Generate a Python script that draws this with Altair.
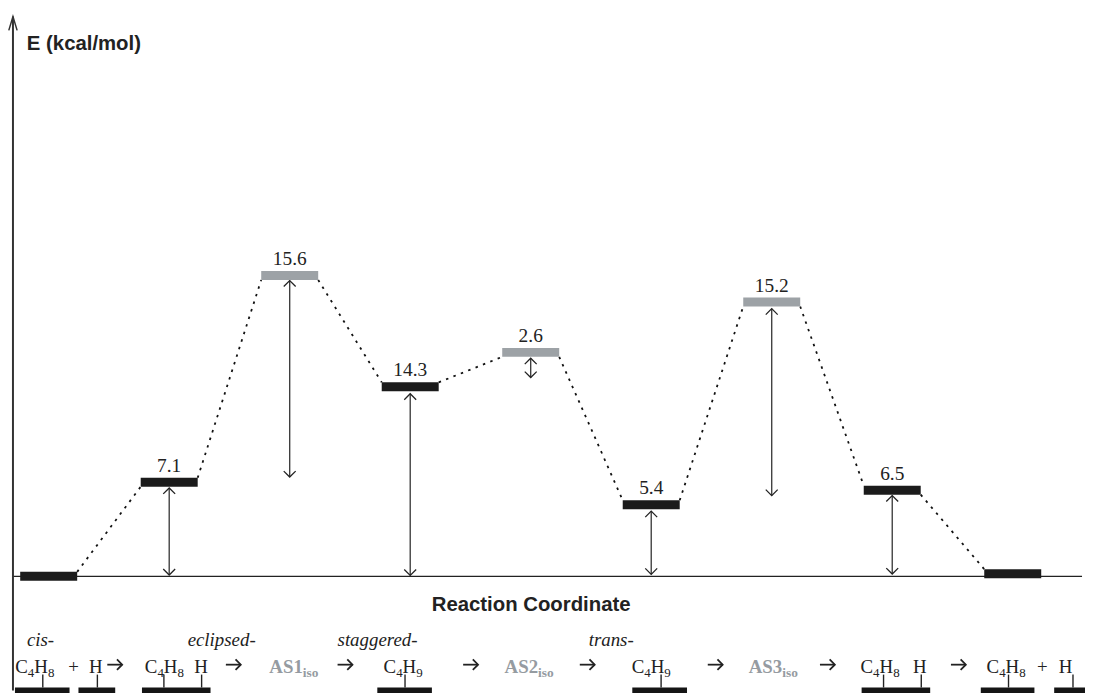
import altair as alt
import pandas as pd

# ---------------- data ----------------
# energy levels (reaction coordinate index, absolute energy in kcal/mol)
level_pos = [0, 1, 2, 3, 4, 5, 6, 7, 8]
level_energy = [0.0, 7.1, 22.7, 14.3, 16.9, 5.4, 20.7, 6.5, 0.2]
level_label = ["", "7.1", "15.6", "14.3", "2.6", "5.4", "15.2", "6.5", ""]
level_kind = ["min", "min", "ts", "min", "ts", "min", "ts", "min", "min"]

# double-headed arrows (position, upper tip, lower tip in kcal/mol)
arrow_pos = [1, 2, 3, 4, 5, 6, 7]
arrow_top = [6.67, 22.32, 13.78, 16.46, 4.92, 20.20, 6.09]
arrow_bottom = [0.10, 7.49, 0.07, 15.00, 0.15, 6.09, 0.17]

# bottom reaction scheme (positions in reaction-coordinate units)
species_text = ["C4H8", "+", "H", "C4H8", "H", "C4H9", "C4H9", "C4H8", "H", "C4H8", "+", "H"]
species_pos = [-0.115, 0.206, 0.391, 0.960, 1.264, 2.941, 5.000, 6.899, 7.228, 7.945, 8.245, 8.439]
step_arrow_pos = [0.548, 1.532, 2.459, 3.501, 4.469, 5.531, 6.462, 7.549]
as_text = ["AS1", "AS2", "AS3"]
as_split = [2.109, 4.061, 6.087]
prefix_text = ["cis-", "eclipsed-", "staggered-", "trans-"]
prefix_pos = [-0.181, 1.153, 2.397, 4.481]

struct_bar_start = [-0.280, 0.247, 0.774, 2.727, 4.843, 6.746, 7.735, 8.344]
struct_bar_end = [0.173, 0.552, 1.343, 3.180, 5.297, 7.315, 8.180, 8.700]
struct_tick = [-0.049, 0.404, 0.956, 1.269, 2.957, 5.082, 6.928, 7.241, 7.965, 8.500]

# ---------------- layout ----------------
W, H = 1085, 685
X_DOMAIN = [-0.3377, 8.5997]
Y_DOMAIN = [-8.614, 42.697]
PX_X = W / (X_DOMAIN[1] - X_DOMAIN[0])
PX_Y = H / (Y_DOMAIN[1] - Y_DOMAIN[0])
BAR_HALF_W = 28.7 / PX_X
BAR_HALF_H = 4.5 / PX_Y
STEP_HALF = 7.5 / PX_X

SERIF = "Liberation Serif, Times New Roman, Times, serif"
SANS = "Liberation Sans, Arial, Helvetica, sans-serif"
DARK = "#1b1b1b"
GRAY = "#9da2a6"
GRAY_TXT = "#959ba1"
MAIN_FS = 19
SUB_FS = 13
# Times advance widths (em) used to lay out formula pieces
TIMES_W = {"C": 0.667, "H": 0.722, "+": 0.564}

xs = alt.Scale(domain=X_DOMAIN, nice=False, zero=False)
ys = alt.Scale(domain=Y_DOMAIN, nice=False, zero=False)


def X(f):
    return alt.X(f, type="quantitative", scale=xs, axis=None)


def X2(f):
    return alt.X2(f)


def Y(f):
    return alt.Y(f, type="quantitative", scale=ys, axis=None)


levels = pd.DataFrame({"pos": level_pos, "e": level_energy,
                       "label": level_label, "kind": level_kind})
levels["x1"] = levels["pos"] - BAR_HALF_W
levels["x2"] = levels["pos"] + BAR_HALF_W
levels["y1"] = levels["e"] - BAR_HALF_H
levels["y2"] = levels["e"] + BAR_HALF_H

# connectors between consecutive levels
rows = []
for i in range(len(level_pos) - 1):
    e0, e1 = level_energy[i], level_energy[i + 1]
    s = 1 if e1 > e0 else -1
    rows.append({"x1": level_pos[i] + BAR_HALF_W, "x2": level_pos[i + 1] - BAR_HALF_W,
                 "y1": e0 + s * BAR_HALF_H, "y2": e1 - s * BAR_HALF_H})
conn = pd.DataFrame(rows)

arrows = pd.DataFrame({"pos": arrow_pos, "top": arrow_top, "bot": arrow_bottom})

# split formulas into normal letters and subscript digits
seg = []
for txt, c in zip(species_text, species_pos):
    pieces = []
    for ch in txt:
        if ch.isdigit():
            pieces.append((ch, True, 0.5 * SUB_FS))
        else:
            pieces.append((ch, False, TIMES_W.get(ch, 0.7) * MAIN_FS))
    total = sum(p[2] for p in pieces)
    off = -total / 2
    for ch, sub, w in pieces:
        seg.append({"t": ch, "sub": sub, "pos": c + off / PX_X})
        off += w
seg = pd.DataFrame(seg)

steps = pd.DataFrame({"pos": step_arrow_pos})
steps["a"] = steps["pos"] - STEP_HALF
steps["b"] = steps["pos"] + STEP_HALF

rects = alt.Chart(levels).mark_rect().encode(
    x=X("x1"), x2=X2("x2"), y=Y("y1"), y2=alt.Y2("y2"),
    color=alt.Color("kind:N", scale=alt.Scale(domain=["min", "ts"], range=[DARK, GRAY]), legend=None),
)

labels = alt.Chart(levels).mark_text(font=SERIF, fontSize=19.5, color="#222",
                                     baseline="alphabetic", align="center", dy=-6).encode(
    x=X("pos"), y=Y("y2"), text="label:N"
)

connectors = alt.Chart(conn).mark_rule(color="#111", strokeWidth=1.8, strokeDash=[2.5, 5.5]).encode(
    x=X("x1"), x2=X2("x2"), y=Y("y1"), y2=alt.Y2("y2")
)

shafts = alt.Chart(arrows).mark_rule(color="#333", strokeWidth=1.3).encode(
    x=X("pos"), y=Y("top"), y2=alt.Y2("bot")
)
head_up = alt.Chart(arrows).mark_point(shape="M-1,1L0,0L1,1", filled=False, size=144,
                                       color="#222", strokeWidth=1.3, opacity=1).encode(
    x=X("pos"), y=Y("top")
)
head_down = alt.Chart(arrows).mark_point(shape="M-1,-1L0,0L1,-1", filled=False, size=144,
                                         color="#222", strokeWidth=1.3, opacity=1).encode(
    x=X("pos"), y=Y("bot")
)

baseline = alt.Chart(pd.DataFrame({"e": [0.0]})).mark_rule(color="#222", strokeWidth=1.2).encode(
    y=Y("e"), x=alt.value(5), x2=alt.value(1082)
)
yaxis = alt.Chart(pd.DataFrame({"e": [0.0]})).mark_rule(color="#333", strokeWidth=2).encode(
    x=alt.value(5), y=alt.value(6), y2=alt.value(H)
)
yhead = alt.Chart(pd.DataFrame({"e": [0.0]})).mark_point(
    shape="M-0.3,1L0,0L0.3,1", filled=False, size=784, color="#333", strokeWidth=1.5, opacity=1
).encode(x=alt.value(5), y=alt.value(6))

ytitle = alt.Chart(pd.DataFrame({"t": ["E (kcal/mol)"]})).mark_text(
    font=SANS, fontSize=20.5, fontWeight="bold", color="#222", align="left", baseline="alphabetic"
).encode(x=alt.value(19), y=alt.value(40), text="t:N")
xtitle = alt.Chart(pd.DataFrame({"t": ["Reaction Coordinate"]})).mark_text(
    font=SANS, fontSize=20.5, fontWeight="bold", color="#222", align="center", baseline="alphabetic"
).encode(x=alt.value(527), y=alt.value(605), text="t:N")

species_main = alt.Chart(seg[~seg["sub"]]).mark_text(
    font=SERIF, fontSize=MAIN_FS, color="#222", align="left", baseline="alphabetic"
).encode(x=X("pos"), y=alt.value(667), text="t:N")
species_sub = alt.Chart(seg[seg["sub"]]).mark_text(
    font=SERIF, fontSize=SUB_FS, color="#222", align="left", baseline="alphabetic"
).encode(x=X("pos"), y=alt.value(671), text="t:N")

step_shaft = alt.Chart(steps).mark_rule(color="#222", strokeWidth=1.8).encode(
    x=X("a"), x2=X2("b"), y=alt.value(659)
)
step_head = alt.Chart(steps).mark_point(shape="M-1,-1L0,0L-1,1", filled=False, size=110,
                                        color="#222", strokeWidth=1.8, opacity=1).encode(
    x=X("b"), y=alt.value(659)
)

as_df = pd.DataFrame({"t": as_text, "pos": as_split, "sub": ["iso"] * 3})
as_main = alt.Chart(as_df).mark_text(
    font=SERIF, fontSize=19, fontWeight="bold", color=GRAY_TXT, align="right", baseline="alphabetic"
).encode(x=X("pos"), y=alt.value(667), text="t:N")
as_sub = alt.Chart(as_df).mark_text(
    font=SERIF, fontSize=13.5, fontWeight="bold", color=GRAY_TXT, align="left", baseline="alphabetic"
).encode(x=X("pos"), y=alt.value(671), text="sub:N")

prefix_df = pd.DataFrame({"t": prefix_text, "pos": prefix_pos})
prefix_row = alt.Chart(prefix_df).mark_text(
    font=SERIF, fontSize=19, fontStyle="italic", color="#222", align="left", baseline="alphabetic"
).encode(x=X("pos"), y=alt.value(640), text="t:N")

sb_df = pd.DataFrame({"a": struct_bar_start, "b": struct_bar_end})
struct_bars = alt.Chart(sb_df).mark_rect(color="#151515").encode(
    x=X("a"), x2=X2("b"), y=alt.value(682), y2=alt.value(692)
)
st_df = pd.DataFrame({"p": struct_tick})
struct_ticks = alt.Chart(st_df).mark_rule(color="#222", strokeWidth=1.4).encode(
    x=X("p"), y=alt.value(669), y2=alt.value(682)
)

chart = alt.layer(
    baseline, yaxis, yhead, connectors, shafts, head_up, head_down, rects, labels,
    ytitle, xtitle, prefix_row, species_main, species_sub, step_shaft, step_head,
    as_main, as_sub, struct_ticks, struct_bars
).properties(
    width=W, height=H, padding=0, autosize=alt.AutoSizeParams(type="none"),
    background="white"
).configure_view(stroke=None)

chart.save("out.html", embed_options={"renderer": "svg", "actions": False})
